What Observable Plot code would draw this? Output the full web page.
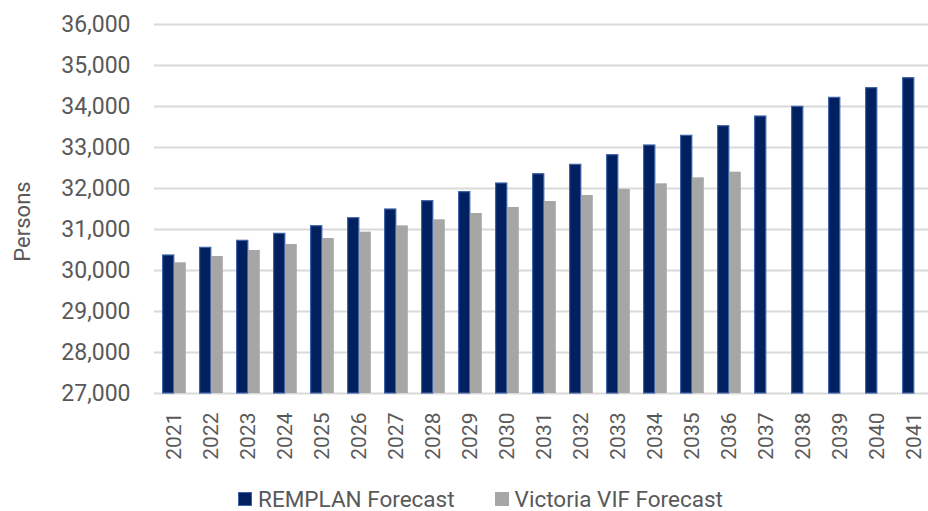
<!DOCTYPE html>
<html>
<head>
<meta charset="utf-8">
<script src="https://cdn.jsdelivr.net/npm/d3@7"></script>
<script src="https://cdn.jsdelivr.net/npm/@observablehq/plot@0.6"></script>
<style>
  html, body { margin: 0; padding: 0; background: #fff; overflow: hidden; }
  #chart { width: 928px; height: 511px; position: relative; font-family: Roboto, "Open Sans", sans-serif; }
  #chart svg { display: block; }
  .legend { display: flex; justify-content: center; align-items: center; height: 22px; line-height: 22px; margin-top: 0; font-size: 22.5px; color: #595959; font-family: Roboto, sans-serif; padding-left: 33px; }
  .legend .item { display: flex; align-items: center; }
  .legend .item + .item { margin-left: 40px; }
  .legend .sw { width: 14px; height: 14px; margin-right: 6px; box-sizing: border-box; }
</style>
</head>
<body>
<div id="chart"></div>
<script>
const years = ["2021","2022","2023","2024","2025","2026","2027","2028","2029","2030","2031","2032","2033","2034","2035","2036","2037","2038","2039","2040","2041"];
const remplan = [30366, 30553, 30724, 30894, 31081, 31276, 31488, 31691, 31911, 32122, 32349, 32577, 32813, 33049, 33285, 33520, 33756, 33992, 34211, 34447, 34691];
const vif = [30188, 30341, 30488, 30634, 30780, 30935, 31089, 31236, 31390, 31537, 31683, 31829, 31976, 32114, 32260, 32398, null, null, null, null, null];
const yTicks = [27000, 28000, 29000, 30000, 31000, 32000, 33000, 34000, 35000, 36000];
const seriesNames = ["REMPLAN Forecast", "Victoria VIF Forecast"];
const colors = ["#002060", "#A6A6A6"];
const yLabel = "Persons";

const remData = years.map((y, i) => ({year: y, value: remplan[i]}));
const vifData = years.map((y, i) => ({year: y, value: vif[i]})).filter(d => d.value != null);

const plot = Plot.plot({
  width: 928,
  height: 488,
  marginTop: 24,
  marginBottom: 95,
  marginLeft: 154,
  marginRight: -5,
  style: {fontFamily: "Roboto, sans-serif", fontSize: "21px", color: "#595959", background: "#fff", overflow: "visible"},
  x: {type: "band", domain: years, padding: 0, label: null},
  y: {domain: [27000, 36000], label: null},
  marks: [
    Plot.ruleY(yTicks, {stroke: "#d9d9d9", strokeWidth: 2}),
    Plot.barY(remData, {x: "year", y1: 27000, y2: "value", fill: colors[0], stroke: "#3F62A8", strokeWidth: 1.2, insetLeft: 7.6, insetRight: 18.2}),
    Plot.barY(vifData, {x: "year", y1: 27000, y2: "value", fill: colors[1], insetLeft: 18.9, insetRight: 6.2}),
    Plot.axisY(yTicks, {tickSize: 0, tickPadding: 24, tickFormat: d3.format(","), fontSize: 23, fill: "#595959", label: null}),
    Plot.axisX({tickRotate: -90, tickSize: 0, tickPadding: 19, fontSize: 21, fill: "#595959", label: null}),
    Plot.text([yLabel], {frameAnchor: "left", textAnchor: "middle", dx: -132, dy: 12.5, rotate: -90, fontSize: 22, fill: "#595959", text: d => d})
  ]
});

const chart = document.getElementById("chart");
chart.appendChild(plot);

const legend = document.createElement("div");
legend.className = "legend";
seriesNames.forEach((name, i) => {
  const item = document.createElement("div");
  item.className = "item";
  const sw = document.createElement("span");
  sw.className = "sw";
  sw.style.background = colors[i];
  if (i === 0) sw.style.border = "1px solid #3F62A8";
  const t = document.createElement("span");
  t.textContent = name;
  item.appendChild(sw);
  item.appendChild(t);
  legend.appendChild(item);
});
chart.appendChild(legend);
</script>
</body>
</html>
